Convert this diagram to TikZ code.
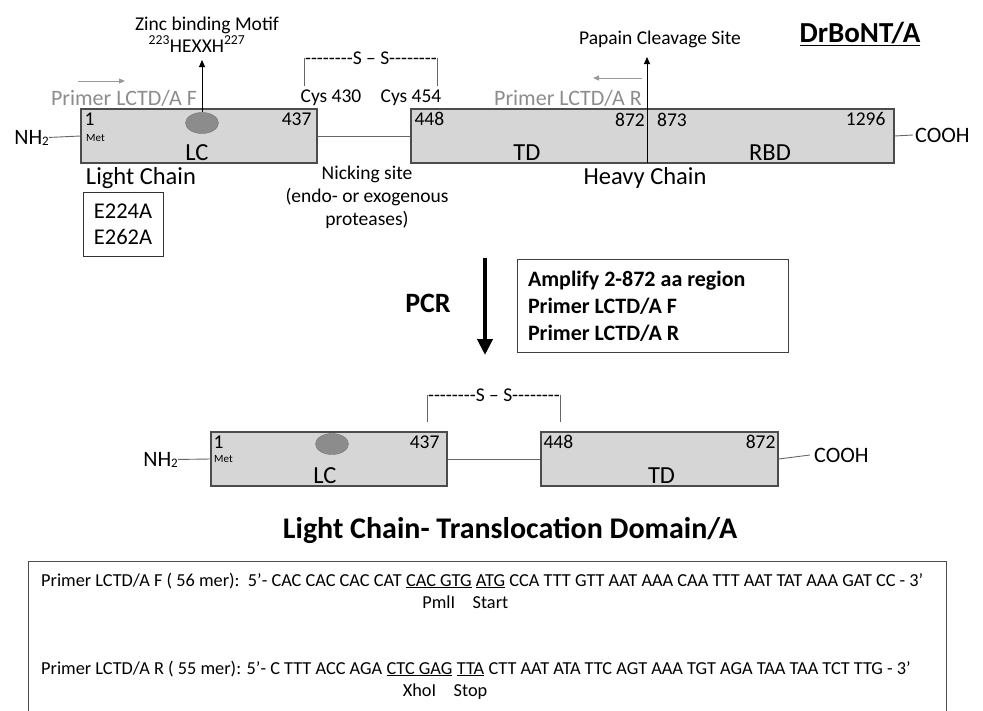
\documentclass[tikz,border=0pt]{standalone}
\usepackage{fontspec}
\setmainfont{Carlito}
\usetikzlibrary{arrows.meta,positioning,shapes.geometric}

\newcommand{\nhtwo}{NH\raisebox{-1pt}{\fontsize{13}{13}\selectfont 2}}
\newcommand{\ssbond}{-{}-{}-{}-{}-{}-{}-{}-S -- S-{}-{}-{}-{}-{}-{}-{}-}

\begin{document}
\begin{tikzpicture}[x=1pt, y=-1pt,
    dombox/.style={draw=black!70, fill=black!16, line width=1.2pt, minimum height=54pt, inner sep=0pt},
    zinc/.style={ellipse, draw=black!55, fill=black!45, minimum width=33pt, minimum height=21pt, inner sep=0pt},
    txt/.style={font=\fontsize{19.5}{23}\selectfont, inner sep=0pt},
    big/.style={font=\fontsize{24.5}{28}\selectfont, inner sep=0pt},
    tiny/.style={font=\fontsize{11}{12}\selectfont, inner sep=0pt},
    primer/.style={font=\fontsize{22}{24}\selectfont, text=black!45, inner sep=0pt},
    seq/.style={font=\fontsize{18.3}{20}\selectfont, inner sep=0pt, anchor=base west},
    site/.style={font=\fontsize{18.3}{20}\selectfont, inner sep=0pt, text height=13pt, text depth=4pt},
    link/.style={draw=black!60, line width=0.9pt},
    pointer/.style={-{Triangle[length=7pt, width=6pt]}, line width=0.9pt},
    garr/.style={-{Triangle[length=6pt, width=5pt]}, draw=black!40, fill=black!40, line width=1pt},
  ]
  \useasboundingbox (0,0) rectangle (983,710);

  % full toxin: light chain and heavy chain
  \node[dombox, minimum width=236pt] (lc) at (199,136) {};
  \node[dombox, minimum width=483pt] (hc) at (652.5,136) {};
  \node[zinc] (zn) at (202,123) {};

  \node[txt, anchor=north west] (lcA) at ([shift={(4,4)}]lc.north west) {1};
  \node[tiny, anchor=west] (lcM) at (86,138) {Met};
  \node[txt, anchor=north east] (lcB) at ([shift={(-6,4)}]lc.north east) {437};
  \node[big, anchor=base] (lcT) at ([shift={(-2,-3)}]lc.south) {LC};
  \node[txt, anchor=north west] (hcA) at ([shift={(4,4)}]hc.north west) {448};
  \node[txt, anchor=north east] (hcB) at (645,113) {872};
  \node[txt, anchor=north west] (hcC) at (657,113) {873};
  \node[txt, anchor=north east] (hcD) at ([shift={(-9,4)}]hc.north east) {1296};
  \node[big, anchor=base] (tdT) at (527,160) {TD};
  \node[big, anchor=base] (rbdT) at (770,160) {RBD};

  % termini
  \node[font=\fontsize{22}{24}\selectfont, inner sep=0pt, anchor=base east] (nhA) at (49,144) {\nhtwo};
  \node[font=\fontsize{22}{24}\selectfont, inner sep=0pt, anchor=west] (coA) at (915,135) {COOH};
  \draw[link] (nhA.east) -- (lc.west);
  \draw[link] (lc.east) -- (hc.west);
  \draw[link] (hc.east) -- ([xshift=-2pt]coA.west);

  % zinc motif and papain site
  \node[txt] (zlbl) at (207,25) {Zinc binding Motif};
  \node[txt] (hexxh) at (197,44) {\textsuperscript{223}HEXXH\textsuperscript{227}};
  \coordinate (znT) at (202,60);
  \draw[pointer] (zn.north) -- (znT);
  \node[txt] (pap) at (660,39) {Papain Cleavage Site};
  \coordinate (cutB) at (647,163);
  \coordinate (cutT) at (647,57);
  \draw[pointer] (cutB) -- (cutT);

  % primers
  \node[primer] (pF) at (124,98) {Primer LCTD/A F};
  \coordinate (pFa) at (78,81);
  \coordinate (pFb) at (125,81);
  \draw[garr] (pFa) -- (pFb);
  \node[primer] (pR) at (568,98) {Primer LCTD/A R};
  \coordinate (pRa) at (642,78);
  \coordinate (pRb) at (593,78);
  \draw[garr] (pRa) -- (pRb);

  % disulfide bridge
  \node[txt] (ssA) at (371,58) {\ssbond};
  \node[txt] (cysA) at (331,98) {Cys 430};
  \node[txt] (cysB) at (411,98) {Cys 454};
  \draw[link, shorten >=4pt] (ssA.west) -- (ssA.west |- cysA.north);
  \draw[link, shorten >=4pt] (ssA.east) -- (ssA.east |- cysB.north);

  % chain names
  \node[big] (lcN) at (141,178) {Light Chain};
  \node[draw=black!80, line width=1pt, font=\fontsize{22.5}{26}\selectfont, align=center,
        minimum width=80pt, minimum height=64pt, inner sep=0pt] (mut) at (123,224) {E224A\\E262A};
  \node[txt, align=center] (nick) at (367,197) {Nicking site\\(endo- or exogenous\\proteases)};
  \node[big] (hcN) at (645,178) {Heavy Chain};
  \node[font=\fontsize{29}{32}\selectfont\bfseries, inner sep=0pt, anchor=base] (name) at (860,42) {\underline{DrBoNT/A}};

  % PCR step
  \coordinate (pcrT) at (485,258);
  \coordinate (pcrB) at (485,355);
  \draw[-{Triangle[length=16pt, width=15pt]}, line width=4pt] (pcrT) -- (pcrB);
  \node[font=\fontsize{28}{30}\selectfont\bfseries, inner sep=0pt] (pcr) at (428,303) {PCR};
  \node[draw=black!75, line width=1pt, font=\fontsize{22}{27}\selectfont\bfseries, align=flush left,
        text width=249pt, inner sep=11pt, minimum height=90pt] (amp) at (652.5,306)
        {Amplify 2-872 aa region\\Primer LCTD/A F\\Primer LCTD/A R};

  % light chain - translocation domain
  \node[dombox, minimum width=236pt] (lc2) at (329,459) {};
  \node[dombox, minimum width=237pt] (td2) at (659.5,459) {};
  \node[zinc] (zn2) at (332,444) {};
  \node[txt, anchor=north west] (lc2A) at ([shift={(3,4)}]lc2.north west) {1};
  \node[tiny, anchor=west] (lc2M) at (214,459) {Met};
  \node[txt, anchor=north east] (lc2B) at ([shift={(-8,4)}]lc2.north east) {437};
  \node[big, anchor=base] (lc2T) at ([shift={(-4,-3)}]lc2.south) {LC};
  \node[txt, anchor=north west] (td2A) at ([shift={(3,4)}]td2.north west) {448};
  \node[txt, anchor=north east] (td2B) at ([shift={(-3,4)}]td2.north east) {872};
  \node[big, anchor=base] (td2T) at ([shift={(2,-3)}]td2.south) {TD};
  \node[font=\fontsize{22}{24}\selectfont, inner sep=0pt, anchor=base east] (nhB) at (178,466) {\nhtwo};
  \node[font=\fontsize{22}{24}\selectfont, inner sep=0pt, anchor=west] (coB) at (814,455) {COOH};
  \draw[link] (nhB.east) -- (lc2.west);
  \draw[link] (lc2.east) -- (td2.west);
  \draw[link] (td2.east) -- ([xshift=-4pt]coB.west);

  \node[txt] (ssB) at (494,395) {\ssbond};
  \draw[link, shorten >=9pt] (ssB.west) -- (ssB.west |- lc2.north);
  \draw[link, shorten >=9pt] (ssB.east) -- (ssB.east |- td2.north);

  \node[font=\fontsize{30}{32}\selectfont\bfseries, inner sep=0pt] (ltd) at (510,530) {Light Chain- Translocation Domain/A};

  % primer sequences
  \coordinate (bxA) at (28,712);
  \coordinate (bxB) at (28,561);
  \coordinate (bxC) at (946,561);
  \coordinate (bxD) at (946,712);
  \draw[draw=black!70, line width=1pt] (bxA) -- (bxB) -- (bxC) -- (bxD);

  \node[seq] (fA) at (41,586) {Primer LCTD/A F ( 56 mer):\ \ 5’- CAC CAC CAC CAT};
  \node[seq] (fPml) at ([xshift=4pt]fA.base east) {\underline{CAC GTG}};
  \node[seq] (fAtg) at ([xshift=4pt]fPml.base east) {\underline{ATG}};
  \node[seq] (fB) at ([xshift=4pt]fAtg.base east) {CCA TTT GTT AAT AAA CAA TTT AAT TAT AAA GAT CC - 3’};
  \node[site, below=7pt of fPml] (pml) {PmlI};
  \node[site, below=7pt of fAtg] (start) {Start};

  \node[seq] (rA) at (41,674) {Primer LCTD/A R ( 55 mer): 5’- C TTT ACC AGA};
  \node[seq] (rXho) at ([xshift=4pt]rA.base east) {\underline{CTC GAG}};
  \node[seq] (rTta) at ([xshift=4pt]rXho.base east) {\underline{TTA}};
  \node[seq] (rB) at ([xshift=4pt]rTta.base east) {CTT AAT ATA TTC AGT AAA TGT AGA TAA TAA TCT TTG - 3’};
  \node[site, below=7pt of rXho] (xho) {XhoI};
  \node[site, below=7pt of rTta] (stop) {Stop};
\end{tikzpicture}
\end{document}
